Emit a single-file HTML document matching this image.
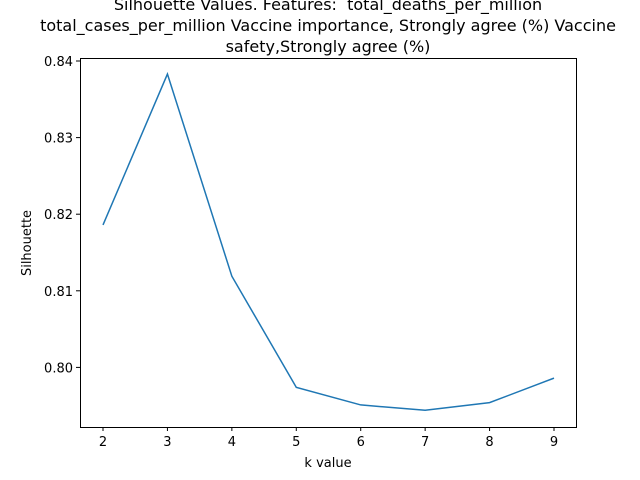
<!DOCTYPE html>
<html><head><meta charset="utf-8"><style>
body{margin:0;background:#fff;}
svg{display:block;font-family:"DejaVu Sans","Liberation Sans",sans-serif;}
</style></head><body>
<svg id="chart" width="640" height="480">
<rect width="640" height="480" fill="#fff"/>
<g font-size="16" text-anchor="middle" fill="#000">
<text x="328" y="10" xml:space="preserve">Silhouette Values. Features:&#160; total_deaths_per_million</text>
<text x="328" y="31">total_cases_per_million Vaccine importance, Strongly agree (%) Vaccine</text>
<text x="328" y="52">safety,Strongly agree (%)</text>
</g>
<g id="ticks"></g>
<path id="line" fill="none" stroke="#1f77b4" stroke-width="1.5"/>
<rect x="80.5" y="58.5" width="496" height="369" fill="none" stroke="#000" stroke-width="1"/>
<text x="328" y="467" font-size="13" text-anchor="middle">k value</text>
<text transform="translate(31,243) rotate(-90)" font-size="13" text-anchor="middle">Silhouette</text>
</svg>
<script>
const kValues=[2,3,4,5,6,7,8,9];
const silhouette=[0.8186,0.8383,0.8119,0.7974,0.7951,0.7944,0.7954,0.7986];
const yTicks=[0.80,0.81,0.82,0.83,0.84];
const xTicks=[2,3,4,5,6,7,8,9];
function xs(v){return 103+(v-2)*(554-103)/7;}
function ys(v){return 61+(0.84-v)*7660;}
const NS="http://www.w3.org/2000/svg";
const g=document.getElementById('ticks');
function mk(t,a){const e=document.createElementNS(NS,t);for(const k in a)e.setAttribute(k,a[k]);return e;}
xTicks.forEach(v=>{
 const x=xs(v);
 const l=mk('line',{x1:x,x2:x,y1:427,y2:431,stroke:'#000'});
 
 
 g.appendChild(l);
 const t=mk('text',{x:x,y:446,'font-size':13,'text-anchor':'middle'});
 
 
 t.textContent=v;g.appendChild(t);
});
yTicks.forEach(v=>{
 const y=ys(v);
 const l=mk('line',{x1:76,x2:80,y1:y,y2:y,stroke:'#000'});
 
 
 g.appendChild(l);
 const t=mk('text',{x:73,y:y+5,'font-size':13,'text-anchor':'end'});
 
 
 t.textContent=v.toFixed(2);g.appendChild(t);
});
document.getElementById('line').setAttribute('d',kValues.map((k,i)=>(i?'L':'M')+xs(k)+','+ys(silhouette[i])).join(' '));
</script>
</body></html>
